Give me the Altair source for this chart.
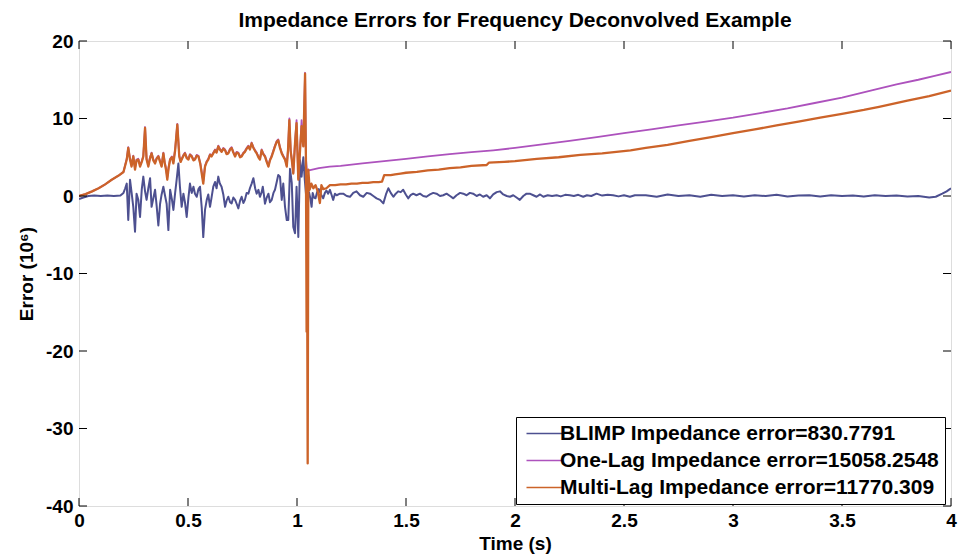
import altair as alt
import pandas as pd

# ---------------- data ----------------
blimp_t = [0.0, 0.02, 0.043, 0.07, 0.10, 0.13, 0.16, 0.19, 0.204, 0.212, 0.219, 0.226, 0.234, 0.241, 0.249, 0.257,
           0.264, 0.272, 0.280, 0.288, 0.295, 0.303, 0.310, 0.318, 0.326, 0.333, 0.341, 0.349, 0.356, 0.364, 0.372,
           0.379, 0.387, 0.395, 0.402, 0.410, 0.418, 0.426, 0.433, 0.441, 0.448, 0.456, 0.463, 0.471, 0.479, 0.486,
           0.494, 0.502, 0.509, 0.517, 0.525, 0.532, 0.540, 0.548, 0.555, 0.563, 0.570, 0.578, 0.586, 0.593, 0.601,
           0.608, 0.616, 0.624, 0.631, 0.639, 0.646, 0.654, 0.662, 0.670, 0.677, 0.685, 0.693, 0.700, 0.708, 0.716,
           0.723, 0.731, 0.739, 0.746, 0.754, 0.761, 0.769, 0.777, 0.784, 0.792, 0.800, 0.808, 0.815, 0.823, 0.830,
           0.838, 0.843, 0.848, 0.853, 0.861, 0.869, 0.876, 0.884, 0.892, 0.899, 0.907, 0.914, 0.922, 0.930, 0.937,
           0.945, 0.953, 0.960, 0.968, 0.976, 0.983, 0.991, 0.998, 1.006, 1.014, 1.021, 1.029, 1.036, 1.045, 1.055,
           1.061, 1.067, 1.072, 1.078, 1.085, 1.092, 1.10, 1.11, 1.12, 1.128, 1.135, 1.143, 1.151, 1.158, 1.166,
           1.174, 1.182, 1.197, 1.212, 1.228, 1.243, 1.258, 1.273, 1.289, 1.304, 1.320, 1.335, 1.350, 1.365, 1.381,
           1.396, 1.408, 1.419, 1.430, 1.442, 1.453, 1.464, 1.476, 1.487, 1.499, 1.510, 1.521, 1.533, 1.548, 1.564,
           1.579, 1.594, 1.610, 1.625, 1.640, 1.656, 1.671, 1.686, 1.702, 1.717, 1.732, 1.748, 1.763, 1.778, 1.793,
           1.808, 1.824, 1.839, 1.854, 1.870, 1.885, 1.900, 1.916, 1.931, 1.946, 1.962, 1.977, 1.992, 2.007, 2.022,
           2.038, 2.053, 2.068, 2.084, 2.099, 2.115, 2.130, 2.150, 2.170, 2.191, 2.21, 2.23, 2.252, 2.27, 2.29, 2.313,
           2.33, 2.35, 2.374, 2.40, 2.425, 2.450, 2.475, 2.50, 2.527, 2.55, 2.60, 2.65, 2.70, 2.75, 2.80, 2.85, 2.90,
           2.95, 3.00, 3.05, 3.10, 3.15, 3.20, 3.25, 3.30, 3.35, 3.40, 3.45, 3.50, 3.55, 3.60, 3.65, 3.70, 3.75, 3.80,
           3.85, 3.90, 3.93, 3.96, 3.98, 4.0]
blimp_v = [-0.4, -0.2, 0.0, 0.05, 0.0, 0.05, 0.0, 0.05, 0.4, 1.0, 1.6, -3.1, 2.1, 0.5, -1.4, -4.6,
           0.3, -0.5, -2.7, 0.9, 2.5, 0.6, -0.5, 1.0, 2.3, -1.4, -0.3, 0.8, -1.2, -3.8, -1.0,
           0.2, 1.2, 0.0, -1.0, -4.4, 0.8, -0.4, -1.8, 0.4, 2.1, 4.2, 1.2, -1.4, 0.3, -0.8,
           -2.7, -0.2, 1.6, 0.4, 1.2, 0.3, -0.1, 0.9, 1.2, -1.5, -5.3, -1.8, -0.5, 0.2, -1.4,
           -0.2, 1.2, 1.8, 1.0, 2.5, 1.6, 1.2, 0.2, -1.4, -0.6, -0.1, -0.8, -0.95, -0.2, -0.5,
           -1.0, -1.6, -0.6, -0.1, -0.9, -0.5, 0.4, 0.3, 1.0, 1.6, 2.3, 1.0, 0.3, 0.8, -0.1,
           0.5, 1.2, 0.2, -1.0, -0.2, 0.3, -0.8, -0.5, 0.4, 0.8, 1.8, 2.7, 2.5, -0.5, 1.6,
           -1.4, -3.1, -3.1, 3.5, 1.7, -4.0, -4.8, 1.2, -5.3, 4.6, 2.5, 5.0, 2.0, -1.0, 0.5,
           -0.3, -1.4, 0.4, -0.2, -0.3, 0.5, 0.9, 0.2, -0.3, 0.4, 0.7, 0.3, 0.8, 0.2, -0.5,
           0.3, 0.1, 0.3, 0.3, 0.0, -0.1, 0.4, 0.6, 0.1, -0.1, 0.4, 0.3, 0.0, -0.3, -0.5,
           -0.95, 0.2, 1.0, 0.4, -0.1, 0.3, 0.6, 0.5, 0.8, 0.2, -0.3, 0.1, 0.3, 0.1, 0.3,
           0.0, -0.1, 0.2, 0.4, 0.3, 0.0, 0.1, 0.3, 0.0, -0.3, 0.1, 0.4, 0.3, 0.1, 0.4,
           0.3, 0.0, 0.2, -0.1, 0.1, -0.3, 0.2, 0.5, 0.6, 0.2, 0.0, -0.1, 0.1, -0.2, -0.5,
           0.0, 0.3, 0.3, 0.1, -0.1, 0.2, -0.1, 0.1, 0.0, 0.1, -0.05, 0.15, 0.1, 0.0, 0.15, -0.1,
           0.1, 0.0, 0.3, 0.05, 0.15, 0.1, -0.05, 0.1, -0.1, 0.1, 0.1, -0.1, 0.2, 0.0, 0.1, -0.1, 0.15,
           0.0, 0.1, -0.05, 0.1, 0.0, 0.15, -0.05, 0.05, 0.1, -0.05, 0.1, 0.0, 0.05, -0.05, 0.1, 0.0, 0.05, -0.05,
           0.0, -0.2, -0.1, 0.3, 0.6, 1.0]

multilag_t = [0.0, 0.03, 0.06, 0.09, 0.12, 0.15, 0.18, 0.204, 0.219, 0.226, 0.234, 0.241, 0.249, 0.257, 0.264,
              0.272, 0.280, 0.288, 0.295, 0.303, 0.310, 0.318, 0.326, 0.333, 0.341, 0.349, 0.356, 0.364, 0.372,
              0.379, 0.387, 0.393, 0.399, 0.405, 0.411, 0.418, 0.426, 0.433, 0.441, 0.451, 0.460, 0.466, 0.471,
              0.479, 0.486, 0.494, 0.502, 0.509, 0.517, 0.525, 0.532, 0.540, 0.548, 0.556, 0.563, 0.570, 0.578,
              0.586, 0.593, 0.601, 0.608, 0.616, 0.624, 0.631, 0.639, 0.646, 0.654, 0.662, 0.670, 0.677, 0.685,
              0.693, 0.700, 0.708, 0.716, 0.723, 0.731, 0.739, 0.746, 0.754, 0.761, 0.769, 0.777, 0.784, 0.792,
              0.800, 0.808, 0.815, 0.823, 0.830, 0.838, 0.845, 0.853, 0.861, 0.869, 0.876, 0.884, 0.892, 0.899,
              0.907, 0.914, 0.922, 0.930, 0.937, 0.945, 0.953, 0.959, 0.965, 0.971, 0.976, 0.983, 0.991, 0.998,
              1.006, 1.014, 1.021, 1.029, 1.037, 1.041, 1.044, 1.046, 1.049, 1.052, 1.058, 1.066, 1.075, 1.085,
              1.095, 1.105, 1.112, 1.12, 1.135, 1.151, 1.175, 1.20, 1.225, 1.25, 1.275, 1.30, 1.325, 1.35, 1.375,
              1.39, 1.40, 1.43, 1.45, 1.475, 1.50, 1.55, 1.60, 1.65, 1.70, 1.75, 1.80, 1.87, 1.88, 1.95, 2.0, 2.1,
              2.2, 2.3, 2.4, 2.53, 2.6, 2.7, 2.8, 2.9, 3.0, 3.1, 3.2, 3.3, 3.4, 3.5, 3.6, 3.67, 3.8, 3.9, 4.0]
multilag_v = [0.0, 0.25, 0.6, 1.0, 1.5, 2.1, 2.6, 3.1, 4.7, 6.2, 4.7, 3.8, 5.1, 3.4, 4.6,
              4.7, 3.8, 4.4, 5.1, 8.8, 4.7, 3.8, 4.9, 5.5, 4.6, 4.2, 4.8, 5.1, 4.4,
              3.8, 5.5, 4.3, 3.4, 2.1, 3.6, 4.7, 5.0, 4.2, 5.9, 9.2, 5.1, 4.4, 4.7,
              5.2, 5.5, 4.9, 4.7, 5.3, 5.1, 4.6, 4.7, 5.2, 5.1, 4.2, 2.9, 1.6, 3.8,
              4.4, 4.7, 5.3, 5.1, 5.5, 5.9, 5.6, 6.4, 6.0, 5.7, 6.1, 5.9, 5.4, 5.5,
              6.0, 6.2, 5.6, 5.1, 5.6, 5.5, 5.0, 5.1, 5.5, 5.7, 6.1, 6.4, 6.0, 6.8,
              6.2, 5.8, 5.5, 5.0, 4.7, 5.9, 5.4, 5.1, 4.4, 3.8, 4.6, 5.1, 5.8, 6.4,
              7.0, 7.2, 6.2, 5.5, 5.1, 4.7, 3.8, 6.0, 9.8, 5.8, 4.7, 2.9, 6.8, 9.4,
              2.1, 5.9, 9.0, 6.4, 15.8, 4.7, -17.5, -5.0, -34.5, 3.4, 0.8, 1.6, 1.0, 1.4,
              0.6, -0.9, 1.4, 0.9, 1.0, 1.4, 1.4, 1.5, 1.5, 1.6, 1.6, 1.7, 1.7, 1.8, 1.8,
              1.85, 2.7, 2.7, 2.8, 2.9, 3.0, 3.1, 3.3, 3.4, 3.6, 3.7, 3.9, 4.0, 4.3, 4.4, 4.5, 4.8,
              5.0, 5.3, 5.5, 5.9, 6.2, 6.6, 7.1, 7.6, 8.1, 8.6, 9.1, 9.6, 10.1, 10.6, 11.1, 11.5, 12.3, 12.9, 13.6]

onelag_t = [0.0, 0.03, 0.06, 0.09, 0.12, 0.15, 0.18, 0.204, 0.219, 0.226, 0.234, 0.241, 0.249, 0.257, 0.264,
            0.272, 0.280, 0.288, 0.295, 0.303, 0.310, 0.318, 0.326, 0.333, 0.341, 0.349, 0.356, 0.364, 0.372,
            0.379, 0.387, 0.393, 0.399, 0.405, 0.411, 0.418, 0.426, 0.433, 0.441, 0.451, 0.460, 0.466, 0.471,
            0.479, 0.486, 0.494, 0.502, 0.509, 0.517, 0.525, 0.532, 0.540, 0.548, 0.556, 0.563, 0.570, 0.578,
            0.586, 0.593, 0.601, 0.608, 0.616, 0.624, 0.631, 0.639, 0.646, 0.654, 0.662, 0.670, 0.677, 0.685,
            0.693, 0.700, 0.708, 0.716, 0.723, 0.731, 0.739, 0.746, 0.754, 0.761, 0.769, 0.777, 0.784, 0.792,
            0.800, 0.808, 0.815, 0.823, 0.830, 0.838, 0.845, 0.853, 0.861, 0.869, 0.876, 0.884, 0.892, 0.899,
            0.907, 0.914, 0.922, 0.930, 0.937, 0.945, 0.953, 0.959, 0.965, 0.971, 0.976, 0.983, 0.991, 0.998,
            1.006, 1.014, 1.021, 1.029, 1.037, 1.041, 1.046, 1.055, 1.10, 1.15, 1.2, 1.3, 1.4, 1.5, 1.6, 1.7,
            1.8, 1.9, 2.0, 2.125, 2.25, 2.375, 2.5, 2.625, 2.75, 2.875, 3.0, 3.125, 3.25, 3.375, 3.5, 3.674,
            3.75, 3.85, 3.925, 4.0]
onelag_v = [0.0, 0.25, 0.6, 1.0, 1.5, 2.1, 2.6, 3.1, 4.8, 6.3, 4.8, 4.0, 5.2, 3.6, 4.7,
            4.8, 4.0, 4.5, 5.2, 8.9, 4.8, 4.0, 5.0, 5.6, 4.7, 4.4, 4.9, 5.2, 4.5,
            4.0, 5.6, 4.4, 3.6, 2.4, 3.7, 4.8, 5.1, 4.4, 6.0, 9.3, 5.2, 4.5, 4.8,
            5.3, 5.6, 5.0, 4.8, 5.4, 5.2, 4.7, 4.8, 5.3, 5.2, 4.3, 3.1, 1.9, 3.9,
            4.5, 4.8, 5.4, 5.2, 5.6, 6.0, 5.7, 6.5, 6.1, 5.8, 6.2, 6.0, 5.5, 5.6,
            6.1, 6.3, 5.7, 5.2, 5.7, 5.6, 5.1, 5.2, 5.6, 5.8, 6.2, 6.5, 6.1, 6.9,
            6.3, 5.9, 5.6, 5.1, 4.8, 6.0, 5.5, 5.2, 4.5, 3.9, 4.7, 5.2, 5.9, 6.5,
            7.1, 7.3, 6.3, 5.6, 5.2, 4.8, 3.9, 6.1, 10.0, 5.9, 4.8, 3.0, 7.0, 9.8,
            2.3, 6.0, 9.8, 6.5, 15.9, 4.8, 3.2, 3.3, 3.6, 3.8, 3.9, 4.2, 4.5, 4.8, 5.1, 5.4,
            5.65, 5.9, 6.2, 6.65, 7.1, 7.6, 8.1, 8.6, 9.1, 9.6, 10.1, 10.7, 11.3, 12.0, 12.7, 13.9,
            14.4, 15.0, 15.5, 16.0]

series_names = ["BLIMP Impedance error=830.7791",
                "One-Lag Impedance error=15058.2548",
                "Multi-Lag Impedance error=11770.309"]
series_colors = ["#4d5090", "#ad52bd", "#cc6329"]

x_ticks = [0, 0.5, 1, 1.5, 2, 2.5, 3, 3.5, 4]
y_ticks = [-40, -30, -20, -10, 0, 10, 20]

title_text = "Impedance Errors for Frequency Deconvolved Example"
x_title = "Time (s)"
y_title = "Error (10⁶)"

# ---------------- chart ----------------
W, H = 872, 465
NARROW = "Liberation Sans Narrow, Arial Narrow, Liberation Sans, Arial, sans-serif"
SANS = "Liberation Sans, Arial, sans-serif"

xs = alt.Scale(domain=[0, 4], nice=False, zero=False)
ys = alt.Scale(domain=[-40, 20], nice=False, zero=False)

xaxis = alt.Axis(values=x_ticks, title=x_title, ticks=False, domain=False, grid=False,
                 labelExpr="datum.value + ''", labelFont=NARROW, labelFontSize=19,
                 labelFontWeight="bold", labelColor="black", labelPadding=5, labelFlush=False,
                 titleFont=NARROW, titleFontSize=19, titleFontWeight="bold", titleColor="black",
                 titlePadding=4)
yaxis = alt.Axis(values=y_ticks, title=y_title, ticks=False, domain=False, grid=False,
                 labelExpr="datum.value + ''", labelFont=SANS, labelFontSize=19,
                 labelFontWeight="bold", labelColor="black", labelPadding=6, labelFlush=False,
                 titleFont=SANS, titleFontSize=19, titleFontWeight="bold", titleColor="black",
                 titlePadding=9)

color = alt.Color("series:N",
                  scale=alt.Scale(domain=series_names, range=series_colors),
                  legend=alt.Legend(title=None, orient="none", legendX=437, legendY=376,
                                    symbolType="M-1,0H5", symbolSize=144, symbolStrokeWidth=1.5,
                                    labelFont=SANS, labelFontSize=21, labelFontWeight="bold",
                                    labelColor="black", labelOffset=17, labelLimit=0,
                                    strokeColor="black", fillColor="white", padding=6,
                                    rowPadding=5, symbolOffset=0))


def line_layer(ts, vs, name, width):
    df = pd.DataFrame({"t": ts, "v": vs, "series": name})
    return alt.Chart(df).mark_line(strokeWidth=width, clip=True, strokeJoin="round").encode(
        x=alt.X("t:Q", scale=xs, axis=xaxis),
        y=alt.Y("v:Q", scale=ys, axis=yaxis),
        color=color,
        order=alt.Order("t:Q"),
    )


blimp = line_layer(blimp_t, blimp_v, series_names[0], 2.0)
onelag = line_layer(onelag_t, onelag_v, series_names[1], 1.8)
multilag = line_layer(multilag_t, multilag_v, series_names[2], 2.3)

xt = pd.DataFrame({"t": x_ticks})
yt = pd.DataFrame({"v": y_ticks})
TL = 8
tick_bottom = alt.Chart(xt).mark_rule(color="black", strokeWidth=1).encode(
    x=alt.X("t:Q", scale=xs, axis=xaxis), y=alt.value(H), y2=alt.value(H - TL))
tick_top = alt.Chart(xt).mark_rule(color="black", strokeWidth=1).encode(
    x=alt.X("t:Q", scale=xs, axis=xaxis), y=alt.value(0), y2=alt.value(TL))
tick_left = alt.Chart(yt).mark_rule(color="black", strokeWidth=1).encode(
    y=alt.Y("v:Q", scale=ys, axis=yaxis), x=alt.value(0), x2=alt.value(TL))
tick_right = alt.Chart(yt).mark_rule(color="black", strokeWidth=1).encode(
    y=alt.Y("v:Q", scale=ys, axis=yaxis), x=alt.value(W), x2=alt.value(W - TL))

chart = alt.layer(blimp, onelag, multilag, tick_bottom, tick_top, tick_left, tick_right).properties(
    width=W, height=H,
    title=alt.TitleParams(title_text, font=NARROW, fontSize=21, fontWeight="bold",
                          color="black", anchor="middle", offset=1),
    autosize=alt.AutoSizeParams(type="none"),
    padding={"left": 79, "top": 41, "right": 7, "bottom": 50},
).configure_view(stroke="black", strokeWidth=1.2).configure(background="white")

chart.save("out.html", embed_options={"renderer": "svg", "actions": False})
